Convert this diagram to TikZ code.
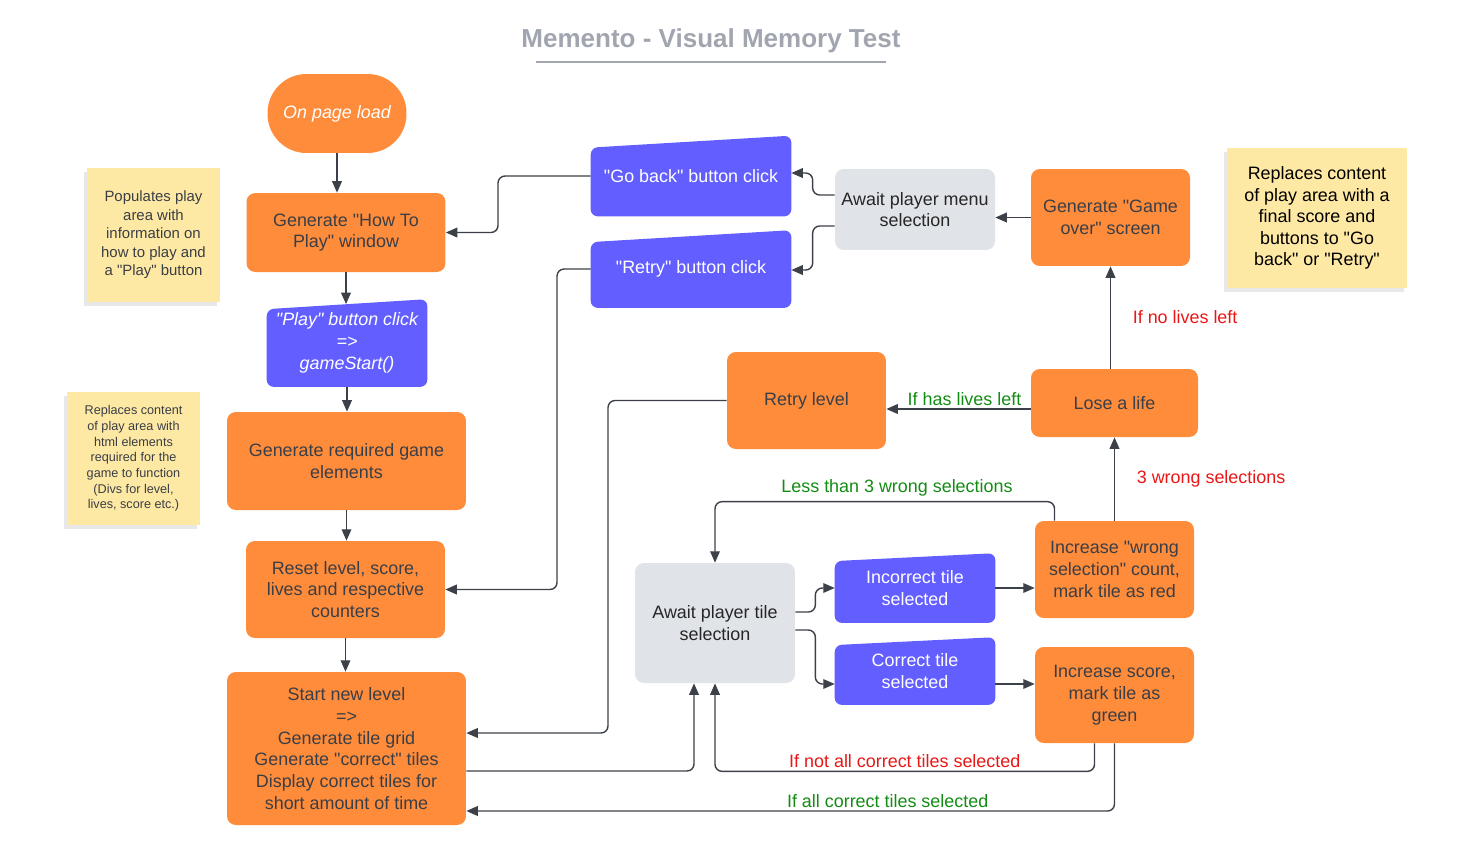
\documentclass[tikz,border=0pt]{standalone}
\usepackage{fontspec}
\setmainfont{Liberation Sans}[Ligatures=TeXReset]
\usetikzlibrary{arrows.meta,shadows,backgrounds}

\definecolor{boxorange}{RGB}{255,140,58}
\definecolor{clickblue}{RGB}{99,94,255}
\definecolor{waitgray}{RGB}{224,227,232}
\definecolor{stickyyellow}{RGB}{254,233,164}
\definecolor{linedark}{RGB}{60,64,72}
\definecolor{textdark}{RGB}{58,62,70}
\definecolor{titlegray}{RGB}{160,165,175}
\definecolor{labelred}{RGB}{232,22,22}
\definecolor{labelgreen}{RGB}{18,140,18}

\newcommand{\mainsize}{\fontsize{10.2}{12.4}\selectfont}
% blue "manual input" shape behind a click node
\newcommand{\clickshape}[2]{%
  \fill[clickblue, rounded corners=4pt] (#1.south west) -- ([yshift=-#2]#1.north west)
    -- (#1.north east) -- (#1.south east) -- cycle;}

\tikzset{
  box/.style={rounded corners=5pt, align=center, font=\mainsize, text=textdark, inner sep=2pt},
  process/.style={box, fill=boxorange},
  waiting/.style={box, fill=waitgray, text=black!85},
  click/.style={box, text=white},
  sticky/.style={fill=stickyyellow, align=center, text=textdark, inner sep=2pt,
    drop shadow={shadow xshift=-1.5pt, shadow yshift=-2.5pt, opacity=0.18}},
  flow/.style={draw=linedark, line width=0.8pt, rounded corners=4pt,
    -{Triangle[length=6.5pt,width=5.5pt]}},
  lbred/.style={text=labelred, font=\mainsize, inner sep=1.5pt},
  lbgreen/.style={text=labelgreen, font=\mainsize, inner sep=1.5pt}
}

\begin{document}
\begin{tikzpicture}[x=0.02cm, y=-0.02cm]
  \useasboundingbox (0,0) rectangle (1466,866);

  % title
  \node[text=titlegray, font=\fontsize{14.8}{17}\selectfont\bfseries] (title) at (711,41) {Memento - Visual Memory Test};
  \draw[titlegray, line width=1.1pt] (536,62) -- (886,62);

  % sticky notes
  \node[sticky, minimum width=2.66cm, minimum height=2.68cm, font=\fontsize{8.5}{10.5}\selectfont] (note1) at (153.5,235)
    {Populates play\\area with\\information on\\how to play and\\a "Play" button};
  \node[sticky, minimum width=2.66cm, minimum height=2.66cm, font=\fontsize{7.2}{8.9}\selectfont] (note2) at (133.5,458.5)
    {Replaces content\\of play area with\\html elements\\required for the\\game to function\\(Divs for level,\\lives, score etc.)};
  \node[sticky, minimum width=3.6cm, minimum height=2.8cm, text=black, font=\fontsize{10.2}{12.3}\selectfont] (note3) at (1317,218)
    {Replaces content\\of play area with a\\final score and\\buttons to "Go\\back" or "Retry"};

  % left column
  \node[process, minimum width=2.78cm, minimum height=1.58cm, rounded corners=0.78cm, text=white, font=\mainsize\itshape] (onload) at (337,113.5) {On page load};
  \node[process, minimum width=3.98cm, minimum height=1.58cm] (howto) at (346,232.5) {Generate "How To\\Play" window};
  \node[click, minimum width=3.2cm, minimum height=1.74cm, font=\mainsize\itshape] (play) at (347,343) {"Play" button click\\=>\\gameStart()};
  \node[process, minimum width=4.78cm, minimum height=1.96cm] (genelems) at (346.5,461) {Generate required game\\elements};
  \node[process, minimum width=3.98cm, minimum height=1.94cm] (reset) at (345.5,589.5) {Reset level, score,\\lives and respective\\counters};
  \node[process, minimum width=4.78cm, minimum height=3.06cm] (start) at (346.5,748.5)
    {Start new level\\=>\\Generate tile grid\\Generate "correct" tiles\\Display correct tiles for\\short amount of time};

  % game over branch
  \node[click, minimum width=4cm, minimum height=1.6cm] (goback) at (691,176) {"Go back" button click};
  \node[click, minimum width=4cm, minimum height=1.54cm] (retrybtn) at (691,269) {"Retry" button click};
  \node[waiting, minimum width=3.2cm, minimum height=1.62cm] (menu) at (915,209.5) {Await player menu\\selection};
  \node[process, minimum width=3.18cm, minimum height=1.94cm] (gameover) at (1110.5,217.5) {Generate "Game\\over" screen};
  \node[process, minimum width=3.18cm, minimum height=1.94cm] (retrylevel) at (806.5,400.5) {Retry level};
  \node[process, minimum width=3.34cm, minimum height=1.36cm] (lose) at (1114.5,403) {Lose a life};

  % tile selection
  \node[waiting, minimum width=3.2cm, minimum height=2.4cm] (tilesel) at (715,623) {Await player tile\\selection};
  \node[click, minimum width=3.2cm, minimum height=1.38cm] (incorrect) at (915,588) {Incorrect tile\\selected};
  \node[click, minimum width=3.2cm, minimum height=1.34cm] (correct) at (915,671) {Correct tile\\selected};
  \node[process, minimum width=3.18cm, minimum height=1.94cm] (wrong) at (1114.5,569.5) {Increase "wrong\\selection" count,\\mark tile as red};
  \node[process, minimum width=3.18cm, minimum height=1.92cm] (score) at (1114.5,695) {Increase score,\\mark tile as\\green};

  \begin{scope}[on background layer]
    \clickshape{play}{5.7pt}
    \clickshape{goback}{6.8pt}
    \clickshape{retrybtn}{6.8pt}
    \clickshape{incorrect}{4.5pt}
    \clickshape{correct}{4.5pt}
  \end{scope}

  % connectors
  \draw[flow] (onload.south) -- (onload.south |- howto.north);
  \draw[flow, shorten >=-2.8pt] (howto.south) -- (howto.south |- play.north);
  \draw[flow] (play.south) -- (play.south |- genelems.north);
  \draw[flow] (genelems.south) -- (genelems.south |- reset.north);
  \draw[flow] (reset.south) -- (reset.south |- start.north);

  \draw[flow] (goback.west) -- (498,176) |- (howto.east);
  \draw[flow] (retrybtn.west) -- (557,269) |- (reset.east);
  \draw[flow] ([yshift=0.29cm]menu.west) -- ++(-22,0) |- ([yshift=0.06cm]goback.east);
  \draw[flow] ([yshift=-0.33cm]menu.west) -- ++(-22,0) |- ([yshift=-0.02cm]retrybtn.east);
  \draw[flow] (gameover.west) -- (gameover.west -| menu.east);
  \draw[flow] (lose.north -| gameover.south) -- node[lbred, right=0.38cm] {If no lives left} (gameover.south);
  \draw[flow] ([yshift=-0.12cm]lose.west) -- node[lbgreen, above, xshift=0.12cm] {If has lives left} ([yshift=-0.12cm]lose.west -| retrylevel.east);
  \draw[flow] (retrylevel.west) -- (608,400.5) |- ([yshift=0.31cm]start.east);

  \draw[flow] (wrong.north) -- node[lbred, right=0.38cm] {3 wrong selections} (lose.south);
  \draw[flow] ([xshift=-1.2cm]wrong.north) -- ++(0,-19) -| node[lbgreen, pos=0.232, above, yshift=0.05cm] {Less than 3 wrong selections} (tilesel.north);
  \draw[flow] ([yshift=0.22cm]tilesel.east) -- ++(20,0) |- (incorrect.west);
  \draw[flow] ([yshift=-0.14cm]tilesel.east) -- ++(20,0) |- ([yshift=-0.26cm]correct.west);
  \draw[flow] (incorrect.east) -- (incorrect.east -| wrong.west);
  \draw[flow] ([yshift=-0.26cm]correct.east) -- ([yshift=-0.26cm]correct.east -| score.west);

  \draw[flow] ([yshift=-0.45cm]start.east) -| ([xshift=-0.42cm]tilesel.south);
  \draw[flow] ([xshift=-0.4cm]score.south) -- ++(0,28) -| node[lbred, pos=0.25, above] {If not all correct tiles selected} (tilesel.south);
  \draw[flow] (score.south) |- node[lbgreen, pos=0.675, above] {If all correct tiles selected} ([yshift=-1.25cm]start.east);
\end{tikzpicture}
\end{document}
